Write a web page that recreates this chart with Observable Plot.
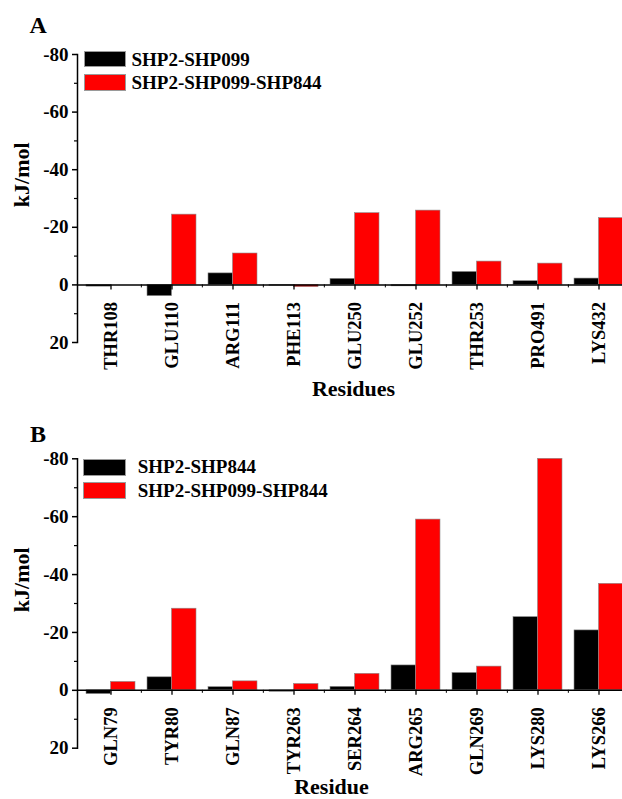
<!DOCTYPE html>
<html><head><meta charset="utf-8">
<script src="https://cdn.jsdelivr.net/npm/d3@7"></script>
<script src="https://cdn.jsdelivr.net/npm/@observablehq/plot@0.6"></script>
<style>
html,body{margin:0;padding:0;background:#fff;overflow:hidden;}
#wrap{position:relative;width:622px;height:799px;overflow:hidden;background:#fff;font-family:"Liberation Serif","Times New Roman",serif;font-weight:bold;color:#000;}
.abs{position:absolute;white-space:nowrap;line-height:1;}
.sw{position:absolute;box-sizing:border-box;border:1px solid #9a9a9a;}
</style></head><body><div id="wrap"></div>
<script>
// ---- data ----
const residuesA = ["THR108","GLU110","ARG111","PHE113","GLU250","GLU252","THR253","PRO491","LYS432"];
const shp099A   = [0.6, 3.9, -4.0, 0.3, -2.1, 0.5, -4.5, -1.3, -2.2];
const tripleA   = [0, -24.4, -10.9, 0.8, -24.9, -25.8, -8.1, -7.4, -23.2];
const seriesA   = ["SHP2-SHP099", "SHP2-SHP099-SHP844"];

const residuesB = ["GLN79","TYR80","GLN87","TYR263","SER264","ARG265","GLN269","LYS280","LYS266"];
const shp844B   = [1.3, -4.5, -1.1, 0.5, -1.2, -8.6, -6.0, -25.3, -20.7];
const tripleB   = [-2.9, -28.2, -3.1, -2.2, -5.7, -59.0, -8.2, -80.0, -36.8];
const seriesB   = ["SHP2-SHP844", "SHP2-SHP099-SHP844"];

const colors = ["#000000", "#ff0000"];
const yTicks = [-80, -60, -40, -20, 0, 20];
const yMinor = [-70, -50, -30, -10, 10];
const yLabel = "kJ/mol";
const xLabelA = "Residues";
const xLabelB = "Residue";
const panelLetters = ["A", "B"];

const FONT = '"Liberation Serif","Times New Roman",serif';
const wrap = document.getElementById("wrap");

function panel({residues, s1, s2, top, height, marginTop, marginBottom, xLabel, xLabelDx, xLabelDy}) {
  const W = 631, ML = 77, MR = 0, PI = 0.2, PO = 0.12;
  const band = d3.scaleBand(residues, [ML, W - MR]).paddingInner(PI).paddingOuter(PO);
  const half = band.bandwidth() / 2, step = band.step();
  const rows = residues.map((r, i) => ({r, a: s1[i], b: s2[i]}));
  const svg = Plot.plot({
    width: W, height, marginLeft: ML, marginRight: MR, marginTop, marginBottom,
    style: {fontFamily: FONT, fontWeight: "bold", fontSize: "19px", background: "transparent", maxWidth: "none", color: "#000", overflow: "visible"},
    x: {domain: residues, paddingInner: PI, paddingOuter: PO, axis: null},
    y: {domain: [20, -80]},
    marks: [
      Plot.barY(rows, {x: "r", y1: 0, y2: "a", fill: colors[0], stroke: "#8c8c8c", strokeWidth: 0.6, insetRight: half}),
      Plot.barY(rows, {x: "r", y1: 0, y2: "b", fill: colors[1], stroke: "#8c8c8c", strokeWidth: 0.6, insetLeft: half}),
      Plot.ruleY([0], {stroke: "#000", strokeWidth: 1.5}),
      Plot.ruleX(residues, {x: d => d, y1: 0, y2: 0, insetBottom: -5, stroke: "#000", strokeWidth: 1.3}),
      Plot.ruleX(residues.slice(1), {x: d => d, y1: 0, y2: 0, insetBottom: -3, dx: -step / 2, stroke: "#000", strokeWidth: 1}),
      Plot.frame({anchor: "left", stroke: "#000", strokeWidth: 1.5}),
      Plot.axisY({ticks: yTicks, tickSize: 5, tickPadding: 4, tickFormat: d => String(d), label: null, fontSize: 19, fontWeight: "bold", strokeWidth: 1.5}),
      Plot.axisY({ticks: yMinor, tickSize: 3, tickFormat: () => "", label: null, strokeWidth: 1.2}),
      Plot.text(residues, {x: d => d, y: 0, text: d => d, rotate: -90, textAnchor: "end", lineAnchor: "middle", dy: 17, fontSize: 18.5, fontWeight: "bold", fill: "#000"}),
      Plot.text([xLabel], {text: d => d, frameAnchor: "bottom", lineAnchor: "middle", dx: xLabelDx, dy: xLabelDy, fontSize: 22, fontWeight: "bold", fill: "#000"}),
      Plot.text([yLabel], {text: d => d, frameAnchor: "left", rotate: -90, lineAnchor: "middle", dx: -56, dy: 8.7, fontSize: 22, fontWeight: "bold", fill: "#000"})
    ]
  });
  const holder = document.createElement("div");
  holder.className = "abs";
  holder.style.left = "0px";
  holder.style.top = top + "px";
  holder.appendChild(svg);
  wrap.appendChild(holder);
}

function addText(txt, x, baseline, fs) {
  const d = document.createElement("div");
  d.className = "abs";
  d.textContent = txt;
  d.style.left = x + "px";
  d.style.fontSize = fs + "px";
  d.style.top = (baseline - 0.8375 * fs) + "px";
  wrap.appendChild(d);
}
function addSwatch(color, x, y, w, h) {
  const d = document.createElement("div");
  d.className = "sw";
  d.style.left = x + "px"; d.style.top = y + "px";
  d.style.width = w + "px"; d.style.height = h + "px";
  d.style.background = color;
  wrap.appendChild(d);
}

panel({residues: residuesA, s1: shp099A, s2: tripleA, top: 0, height: 404, marginTop: 54, marginBottom: 62, xLabel: xLabelA, xLabelDx: -1, xLabelDy: 46});
panel({residues: residuesB, s1: shp844B, s2: tripleB, top: 404, height: 395, marginTop: 54.3, marginBottom: 51.3, xLabel: xLabelB, xLabelDx: -23, xLabelDy: 39});

// panel letters
addText(panelLetters[0], 29.5, 32.7, 24);
addText(panelLetters[1], 30, 441.7, 24);

// legends
addSwatch(colors[0], 84, 51, 42, 16);
addSwatch(colors[1], 84, 74, 42, 16.5);
addText(seriesA[0], 131.5, 65.7, 19);
addText(seriesA[1], 131.5, 89, 19);

addSwatch(colors[0], 83, 459, 43, 17);
addSwatch(colors[1], 83, 482, 43, 17);
addText(seriesB[0], 137.7, 472.7, 19);
addText(seriesB[1], 137.7, 496.7, 19);
</script></body></html>
